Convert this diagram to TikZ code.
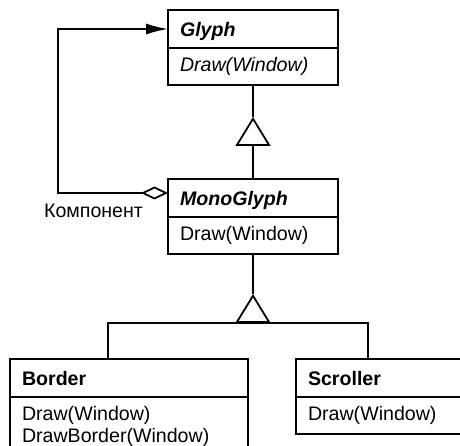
\documentclass[tikz,border=0pt]{standalone}
\usepackage{fontspec}
\setmainfont{Liberation Sans}
\usetikzlibrary{arrows.meta,positioning}

\tikzset{
  umlbox/.style={draw, line width=1.8pt, outer sep=0pt, text width=#1, align=left,
    inner xsep=12pt, inner ysep=0pt, minimum height=38pt, text depth=0pt,
    font=\fontsize{19.6}{22}\selectfont},
  umlops/.style={umlbox=#1, inner ysep=9pt, minimum height=37pt, text depth=},
  isa/.style={line width=1.8pt, -{Triangle[open,length=29pt,width=35pt]}},
  link/.style={line width=1.8pt}
}

\begin{document}
\begin{tikzpicture}[x=1pt, y=-1pt]
\path[use as bounding box] (0,0) rectangle (460,446);

\node[umlbox=146pt, anchor=north] (glyphhead) at (253,10) {\bfseries\itshape Glyph};
\node[umlops=146pt, below=0pt of glyphhead] (glyphops) {\itshape Draw(Window)};

\node[umlbox=146pt, anchor=north] (monohead) at (253,179) {\bfseries\itshape MonoGlyph};
\node[umlops=146pt, below=0pt of monohead] (monoops) {Draw(Window)};

\node[umlbox=214pt, anchor=north] (borderhead) at (129,359) {\bfseries Border};
\node[umlops=214pt, below=0pt of borderhead] (borderops) {Draw(Window)\\DrawBorder(Window)};

\node[umlbox=146pt, anchor=north] (scrollhead) at (381,359) {\bfseries Scroller};
\node[umlops=146pt, below=0pt of scrollhead] (scrollops) {Draw(Window)};

\coordinate (tipA) at (253,117);
\draw[isa] (monohead.north) -- (tipA);
\draw[link] (glyphops.south) -- (tipA);

\coordinate (tipB) at (253,294);
\coordinate (bus) at (253,323);
\draw[isa] (bus) -- (tipB);
\draw[link] (monoops.south) -- (tipB);
\draw[link] ([xshift=-21pt]borderhead.north) |- (bus) -| ([xshift=-13pt]scrollhead.north);

\coordinate (bend) at (58,193);
\draw[link, {Diamond[open,length=27pt,width=13pt]}-{Latex[length=22pt,width=11pt]}]
  ([yshift=5pt]monohead.west) -- (bend) |- (glyphhead.west);
\node[font=\fontsize{19.6}{22}\selectfont] (role) at (93.5,211) {Компонент};
\end{tikzpicture}
\end{document}
